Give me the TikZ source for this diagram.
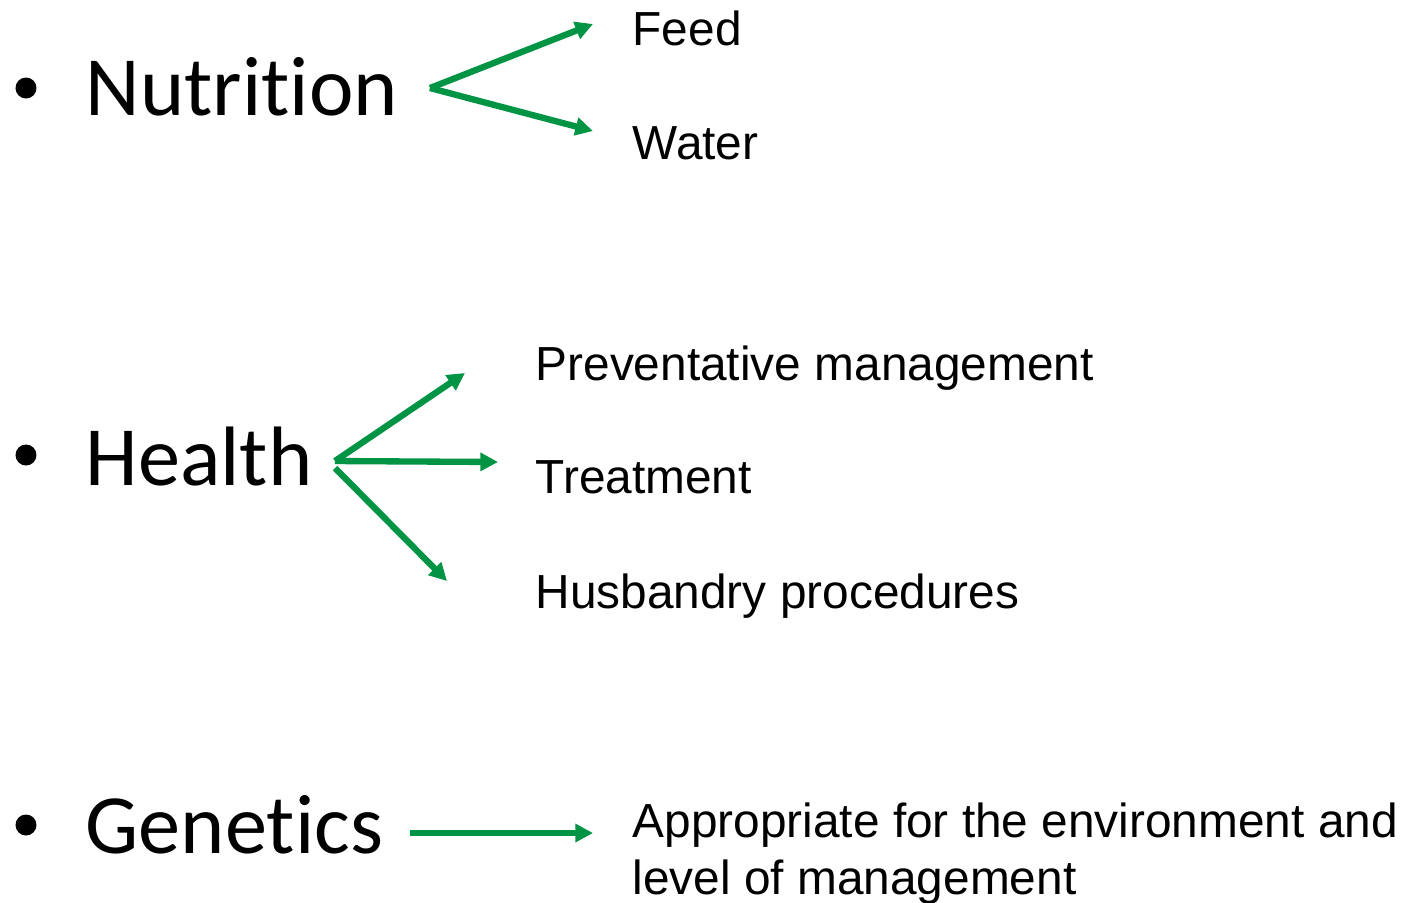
\documentclass[tikz,border=0pt]{standalone}
\usepackage{fontspec}
\setmainfont{Liberation Sans}
\newfontfamily\calibri[Ligatures=NoCommon]{Carlito}
\usepackage{xcolor}
\usetikzlibrary{arrows.meta}
\definecolor{arrowgreen}{RGB}{0,148,68}

\begin{document}
\begin{tikzpicture}[
    topic/.style={anchor=base west,inner sep=0pt,font=\calibri\fontsize{24}{29}\selectfont},
    item/.style={anchor=base west,inner sep=0pt,font=\fontsize{13.6}{16.2}\selectfont},
    branch/.style={draw=arrowgreen,line width=1.8pt,-{Triangle[length=5pt,width=5pt]}}
  ]
                \useasboundingbox (0,0) rectangle (14.02,-9.02);
                \fill (0.26,-0.88) circle (0.105);
                \node[topic] (nutrition) at (0.85,-1.15) {Nutrition};
                \fill (0.26,-4.55) circle (0.105);
                \node[topic] (health) at (0.85,-4.85) {Health};
                \fill (0.26,-8.25) circle (0.105);
                \node[topic] (genetics) at (0.85,-8.53) {Genetics};
                \node[item] (feed) at (6.32,-0.45) {Feed};
                \node[item] (water) at (6.32,-1.59) {Water};
                \node[item] (prevent) at (5.35,-3.80) {Preventative management};
                \node[item] (treat) at (5.35,-4.93) {Treatment};
                \node[item] (husb) at (5.35,-6.08) {Husbandry procedures};
                \node[item,align=left] (approp) at (6.32,-8.94) {Appropriate for the environment and\\level of management};
                \coordinate (nutfork) at (4.30,-0.88);
                \coordinate (feedtip) at (5.93,-0.24);
                \coordinate (watertip) at (5.93,-1.31);
                \coordinate (healthfork) at (3.35,-4.61);
                \coordinate (husbfork) at (3.35,-4.68);
                \coordinate (preventtip) at (4.65,-3.73);
                \coordinate (treattip) at (4.98,-4.62);
                \coordinate (husbtip) at (4.47,-5.81);
                \coordinate (genstart) at (4.10,-8.33);
                \coordinate (gentip) at (5.93,-8.33);
                \draw[branch] (nutfork) -- (feedtip);
                \draw[branch] (nutfork) -- (watertip);
                \draw[branch] (healthfork) -- (preventtip);
                \draw[branch] (healthfork) -- (treattip);
                \draw[branch] (husbfork) -- (husbtip);
                \draw[branch] (genstart) -- (gentip);
            \end{tikzpicture}
\end{document}
